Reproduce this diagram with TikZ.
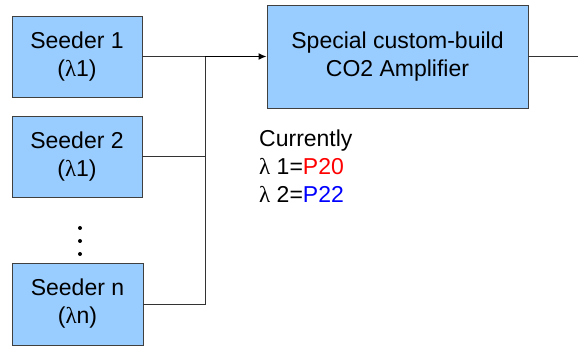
\documentclass[tikz,border=0pt]{standalone}
\usepackage{fontspec}
\setmainfont{Liberation Sans}
\newfontfamily\lamfont{Liberation Serif}
\usetikzlibrary{arrows.meta}
\definecolor{boxfill}{HTML}{99CCFF}
\definecolor{boxline}{HTML}{404040}
\newcommand{\lam}{{\lamfont λ}}
\begin{document}
\begin{tikzpicture}[x=1pt,y=-1pt,
  blk/.style={draw=boxline,line width=0.9pt,fill=boxfill,align=center,
    inner sep=0pt,font=\fontsize{23}{28}\selectfont},
  conn/.style={draw=black!80,line width=0.9pt},
  txt/.style={anchor=base west,inner sep=0pt,font=\fontsize{23}{28}\selectfont}]
\useasboundingbox (0,0) rectangle (578,347);
\node[blk,minimum width=130pt,minimum height=81pt] (s1) at (77,56.5) {Seeder 1\\(\lam1)};
\node[blk,minimum width=130pt,minimum height=81pt] (s2) at (77,156.5) {Seeder 2\\(\lam1)};
\node[blk,minimum width=131pt,minimum height=82pt] (sn) at (77.5,304) {Seeder n\\(\lam n)};
\node[blk,minimum width=261pt,minimum height=103pt] (amp) at (397.5,56.5) {Special custom-build\\CO2 Amplifier};
\coordinate (bus) at (205,56.5);
\coordinate (out) at (578,56.5);
\foreach \i/\yy in {d1/228,d2/241,d3/254}
  \fill (80,\yy) circle (2pt) coordinate (\i);
\draw[conn] (s1.east) -- (bus);
\draw[conn] (s2.east) -- (s2.east -| bus);
\draw[conn] (sn.east) -- (sn.east -| bus) -- (bus);
\draw[black,line width=1.4pt,-{Latex[length=8pt,width=7pt]}] (bus) -- (amp.west);
\draw[conn] (amp.east) -- (out);
\node[txt] (cur) at (259,147) {Currently};
\node[txt] (l1) at (259,175) {\lam\ 1=\textcolor{red}{P20}};
\node[txt] (l2) at (259,203) {\lam\ 2=\textcolor{blue}{P22}};
\end{tikzpicture}
\end{document}
